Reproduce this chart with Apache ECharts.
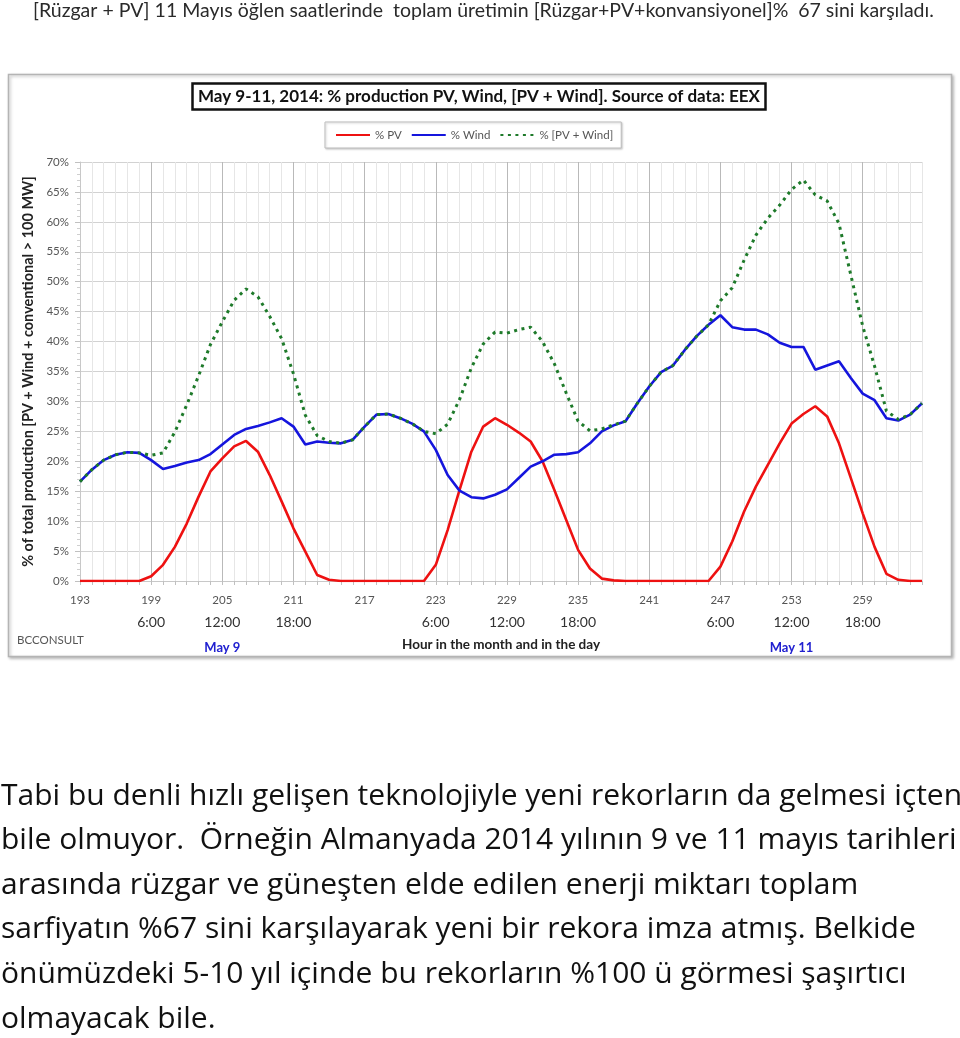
<!DOCTYPE html>
<html>
<head>
<meta charset="utf-8">
<script src="https://cdn.jsdelivr.net/npm/echarts@6/dist/echarts.min.js"></script>
<style>
html,body{margin:0;padding:0;background:#fff;}
#chart{width:960px;height:1038px;}
</style>
</head>
<body>
<div id="chart"></div>
<script>
// Hours in the month (May 9 00:00 = hour 193)
const hours = [];
for (let h = 193; h <= 264; h++) hours.push(h);

const pvValues = [
  0,0,0,0,0,0,0.8,2.7,5.7,9.6,14.1,18.3,20.5,22.5,23.4,21.6,17.7,13.3,8.8,4.9,1.0,0.2,0,0,
  0,0,0,0,0,0,2.7,8.5,15.2,21.6,25.8,27.2,26.1,24.8,23.3,20.0,15.2,10.2,5.2,2.1,0.4,0.1,0,0,
  0,0,0,0,0,0,2.4,6.6,11.6,15.8,19.4,23.0,26.3,27.9,29.2,27.5,23.0,17.2,11.3,5.7,1.2,0.2,0,0
];
const windValues = [
  16.6,18.6,20.2,21.1,21.5,21.4,20.2,18.7,19.2,19.8,20.2,21.2,22.8,24.4,25.4,25.9,26.5,27.2,25.8,22.8,23.3,23.1,23.0,23.6,
  25.8,27.8,27.9,27.2,26.3,25.0,21.9,17.7,15.1,14.0,13.8,14.4,15.3,17.2,19.1,20.0,21.1,21.2,21.5,23.0,25.0,26.0,26.7,29.7,
  32.5,34.9,36.0,38.6,40.9,42.8,44.4,42.4,42.0,42.0,41.2,39.8,39.1,39.1,35.3,36.0,36.7,33.9,31.3,30.2,27.2,26.8,27.8,29.7
];
const pvWindValues = [
  16.6,18.6,20.2,21.1,21.5,21.4,21.0,21.4,24.9,29.4,34.3,39.5,43.3,46.9,48.8,47.5,44.2,40.5,34.6,27.7,24.3,23.3,23.0,23.6,
  25.8,27.8,27.9,27.2,26.3,25.0,24.6,26.2,30.3,35.6,39.6,41.6,41.4,42.0,42.4,40.0,36.3,31.4,26.7,25.1,25.4,26.1,26.7,29.7,
  32.5,34.9,36.0,38.6,40.9,42.8,46.8,49.0,53.6,57.8,60.6,62.8,65.4,67.0,64.5,63.5,59.7,51.1,42.6,35.9,28.4,27.0,27.8,29.7
];
const yTicks = [0,5,10,15,20,25,30,35,40,45,50,55,60,65,70];
const timeLabels = {199:'6:00',205:'12:00',211:'18:00',223:'6:00',229:'12:00',235:'18:00',247:'6:00',253:'12:00',259:'18:00'};
const dayLabels = {205:'May 9',253:'May 11'};
const seriesNames = ['% PV','% Wind','% [PV + Wind]'];

const headerText = '[Rüzgar + PV] 11 Mayıs öğlen saatlerinde  toplam üretimin [Rüzgar+PV+konvansiyonel]%  67 sini karşıladı.';
const paragraphLines = [
  'Tabi bu denli hızlı gelişen teknolojiyle yeni rekorların da gelmesi içten',
  'bile olmuyor.  Örneğin Almanyada 2014 yılının 9 ve 11 mayıs tarihleri',
  'arasında rüzgar ve güneşten elde edilen enerji miktarı toplam',
  'sarfiyatın %67 sini karşılayarak yeni bir rekora imza atmış. Belkide',
  'önümüzdeki 5-10 yıl içinde bu rekorların %100 ü görmesi şaşırtıcı',
  'olmayacak bile.'
];

const pair = arr => hours.map((h, i) => [h, arr[i]]);
const FONT = 'Lato, "Open Sans", sans-serif';
const PFONT = '"Open Sans", Lato, sans-serif';

const chart = echarts.init(document.getElementById('chart'), null, {renderer: 'canvas'});

const baseX = {
  type: 'value', min: 193, max: 264, interval: 1, position: 'bottom'
};

const graphics = [
  {type: 'rect', shape: {x: 8.5, y: 74.5, width: 943, height: 582}, z: -10,
   style: {fill: '#fff', stroke: '#b4b4b4', lineWidth: 1.5, shadowColor: 'rgba(0,0,0,0.25)', shadowBlur: 3, shadowOffsetX: 1.5, shadowOffsetY: 1.5}},
  {type: 'text', left: 33, top: 1, style: {text: headerText, font: '19.5px ' + FONT, fill: '#2a2a2a'}},
  {type: 'text', left: 17, top: 634, style: {text: 'BCCONSULT', font: '11.5px ' + FONT, fill: '#555'}}
];
paragraphLines.forEach((t, i) => {
  graphics.push({type: 'text', left: 1, top: 781 + i * 44.6, style: {text: t, font: '30px ' + PFONT, fill: '#111'}});
});

chart.setOption({
  animation: false,
  backgroundColor: '#fff',
  textStyle: {fontFamily: FONT},
  title: {
    text: 'May 9-11, 2014: % production PV, Wind, [PV + Wind]. Source of data: EEX',
    left: 192, top: 83,
    padding: [5, 6, 5, 6],
    borderColor: '#111', borderWidth: 2.5,
    backgroundColor: '#fff',
    textStyle: {fontSize: 17, fontWeight: 'bold', color: '#111', fontFamily: FONT}
  },
  legend: {
    data: seriesNames,
    left: 325, top: 122,
    padding: [7, 8, 7, 10],
    itemGap: 9,
    itemWidth: 34, itemHeight: 10,
    borderColor: '#bdbdbd', borderWidth: 1,
    backgroundColor: '#fff',
    itemStyle: {opacity: 0},
    shadowColor: 'rgba(0,0,0,0.2)', shadowBlur: 2, shadowOffsetX: 1, shadowOffsetY: 1,
    textStyle: {fontSize: 11.5, color: '#555'}
  },
  grid: {left: 80, right: 38, top: 162, bottom: 457, containLabel: false},
  xAxis: [
    Object.assign({}, baseX, {
      name: 'Hour in the month and in the day',
      nameLocation: 'middle', nameGap: 57,
      nameTextStyle: {fontSize: 13.5, fontWeight: 'bold', color: '#222'},
      axisLine: {show: true, lineStyle: {color: '#c8c8c8'}},
      axisTick: {show: true, length: 4, lineStyle: {color: '#c0c0c0'}},
      axisLabel: {margin: 13, fontSize: 11.5, color: '#555', showMinLabel: true, showMaxLabel: true,
        formatter: v => ((v - 193) % 6 === 0 && v < 264) ? String(v) : ''},
      splitLine: {show: true, lineStyle: {width: 1, color: ['#b9b9b9','#e6e6e6','#e6e6e6','#e6e6e6','#e6e6e6','#e6e6e6']}}
    }),
    Object.assign({}, baseX, {
      offset: 26,
      axisLine: {show: false}, axisTick: {show: false}, splitLine: {show: false},
      axisLabel: {margin: 8, fontSize: 14, color: '#333', formatter: v => timeLabels[v] || ''}
    }),
    Object.assign({}, baseX, {
      offset: 52,
      axisLine: {show: false}, axisTick: {show: false}, splitLine: {show: false},
      axisLabel: {margin: 8, fontSize: 13, fontWeight: 'bold', color: '#2020d0', formatter: v => dayLabels[v] || ''}
    })
  ],
  yAxis: {
    type: 'value', min: 0, max: 70, interval: 5,
    name: '% of total production [PV + Wind + conventional > 100 MW]',
    nameLocation: 'middle', nameRotate: 90, nameGap: 40,
    nameTextStyle: {fontSize: 14.5, fontWeight: 'bold', color: '#222'},
    axisLine: {show: true, lineStyle: {color: '#c8c8c8'}},
    axisTick: {show: true, length: 5, lineStyle: {color: '#c0c0c0'}},
    minorTick: {show: true, splitNumber: 5, length: 3, lineStyle: {color: '#cfcfcf'}},
    axisLabel: {margin: 11, fontSize: 11.5, color: '#555', formatter: v => yTicks.includes(v) ? v + '%' : ''},
    splitLine: {show: true, lineStyle: {color: '#d2d2d2', width: 1}}
  },
  series: [
    {name: seriesNames[0], type: 'line', data: pair(pvValues), symbol: 'none', xAxisIndex: 0,
     lineStyle: {color: '#ee1111', width: 2.6}, itemStyle: {color: '#ee1111'}},
    {name: seriesNames[1], type: 'line', data: pair(windValues), symbol: 'none', xAxisIndex: 0,
     lineStyle: {color: '#1515dd', width: 2.6}, itemStyle: {color: '#1515dd'}},
    {name: seriesNames[2], type: 'line', data: pair(pvWindValues), symbol: 'none', xAxisIndex: 0,
     lineStyle: {color: '#1e7a2a', width: 3, type: [3, 4.5]}, itemStyle: {color: '#1e7a2a'}}
  ],
  graphic: graphics
});
</script>
</body>
</html>
